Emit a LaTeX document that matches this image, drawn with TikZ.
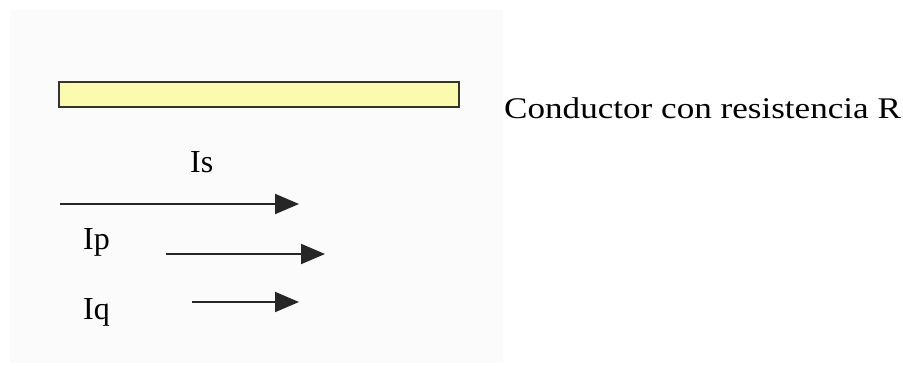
\documentclass[tikz,border=0pt]{standalone}
\usepackage{fontspec}
\setmainfont{Liberation Serif}
\usetikzlibrary{arrows.meta}
\definecolor{fondo}{HTML}{FBFBFB}
\definecolor{amarillo}{HTML}{FBFBAE}
\tikzset{
  corriente/.style={-{Triangle[length=24pt,width=20pt]}, line width=2pt, black!85},
  etiqueta/.style={anchor=base west, inner sep=0pt, font=\fontsize{32}{38}\selectfont},
}
\begin{document}
\begin{tikzpicture}[x=1pt,y=-1pt]
                    \useasboundingbox (0,0) rectangle (903,365);
                    % fondo
                    \fill[fondo] (10,10) rectangle (503,363);

                    % conductor
                    \node[draw=black!80, line width=2pt, fill=amarillo, minimum width=400pt, minimum height=25pt, inner sep=0pt] (cond) at (259,94.5) {};
                    \node[anchor=base west, inner sep=0pt, font=\fontsize{30}{36}\selectfont] (nombre) at (504,118) {\scalebox{1.17}[1]{Conductor con resistencia R}};

                    % corrientes
                    \node[etiqueta] (is) at (190,172) {Is};
                    \node[etiqueta] (ip) at (83,249) {Ip};
                    \node[etiqueta] (iq) at (83,319) {Iq};

                    \coordinate (is1) at (60,204);
                    \coordinate (is2) at (299,204);
                    \coordinate (ip1) at (166,254);
                    \coordinate (ip2) at (325,254);
                    \coordinate (iq1) at (192,302);
                    \coordinate (iq2) at (299,302);

                    \draw[corriente] (is1) -- (is2);
                    \draw[corriente] (ip1) -- (ip2);
                    \draw[corriente] (iq1) -- (iq2);
\end{tikzpicture}
\end{document}
